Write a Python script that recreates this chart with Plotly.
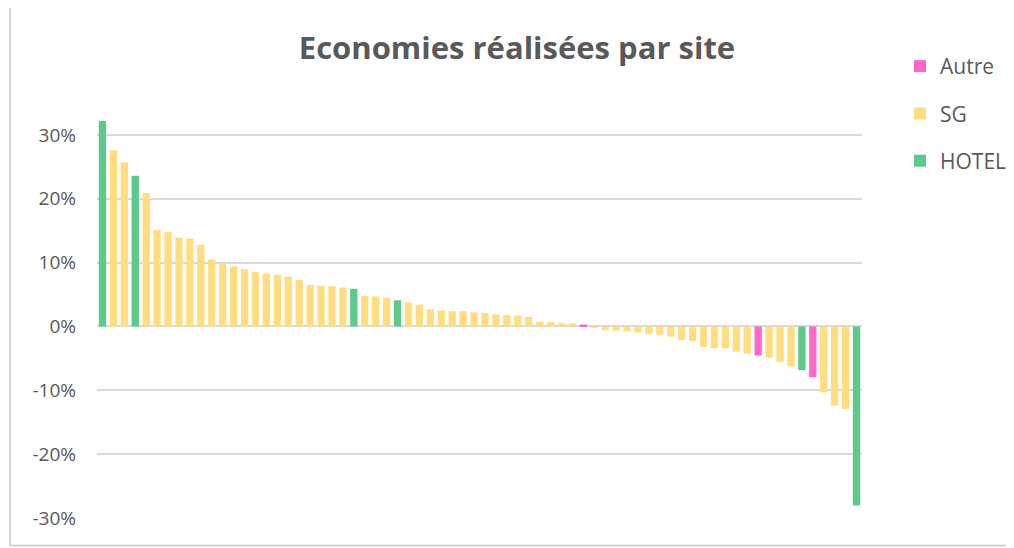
import plotly.graph_objects as go

# Data (percent savings per site, sorted descending)
values = [32.2, 27.6, 25.7, 23.6, 20.9, 15.1, 14.8, 13.9, 13.8, 12.8,
          10.5, 9.9, 9.4, 9.0, 8.5, 8.3, 8.1, 7.8, 7.3, 6.5,
          6.4, 6.3, 6.1, 5.9, 4.8, 4.7, 4.5, 4.1, 3.8, 3.4,
          2.7, 2.5, 2.4, 2.4, 2.2, 2.1, 1.9, 1.8, 1.7, 1.5,
          0.75, 0.7, 0.5, 0.45, 0.3, -0.2, -0.6, -0.65, -0.75, -0.95,
          -1.2, -1.3, -1.6, -2.1, -2.3, -3.2, -3.4, -3.45, -3.95, -4.25,
          -4.55, -4.9, -5.55, -6.25, -6.85, -7.95, -10.35, -12.4, -12.95, -28.05]
types = ["HOTEL", "SG", "SG", "HOTEL", "SG", "SG", "SG", "SG", "SG", "SG",
         "SG", "SG", "SG", "SG", "SG", "SG", "SG", "SG", "SG", "SG",
         "SG", "SG", "SG", "HOTEL", "SG", "SG", "SG", "HOTEL", "SG", "SG",
         "SG", "SG", "SG", "SG", "SG", "SG", "SG", "SG", "SG", "SG",
         "SG", "SG", "SG", "SG", "Autre", "SG", "SG", "SG", "SG", "SG",
         "SG", "SG", "SG", "SG", "SG", "SG", "SG", "SG", "SG", "SG",
         "Autre", "SG", "SG", "SG", "HOTEL", "Autre", "SG", "SG", "SG", "HOTEL"]
series_names = ["Autre", "SG", "HOTEL"]
series_colors = {"Autre": "#FF66CC", "SG": "#FFDD80", "HOTEL": "#5CCA8C"}
y_ticks = [-0.3, -0.2, -0.1, 0, 0.1, 0.2, 0.3]
y_tick_labels = ["-30%", "-20%", "-10%", "0%", "10%", "20%", "30%"]

fig = go.Figure()
for name in series_names:
    xs = [i for i, t in enumerate(types) if t == name]
    ys = [values[i] / 100 for i in xs]
    fig.add_trace(go.Bar(x=xs, y=ys, name=name, legendgroup=name, width=0.67,
                         marker=dict(color=series_colors[name], line=dict(width=0))))

OFF = 8  # page body margin
W, H = 1014 - OFF, 548 - OFF
L, R, T, B = 97 - OFF, 862 - OFF, 103 - OFF, 518 - OFF
fig.update_layout(
    width=W, height=H,
    margin=dict(l=L, r=W - R, t=T, b=H - B, autoexpand=False),
    paper_bgcolor="white", plot_bgcolor="white",
    barmode="overlay",
    font=dict(family="Open Sans, sans-serif", color="#595959", size=18),
    title=dict(text="<b>Economies réalisées par site</b>", x=(517 - OFF) / W, xanchor="center",
               y=1 - (48 - OFF) / H, yanchor="middle",
               font=dict(size=31, color="#595959", family="Open Sans, sans-serif")),
    legend=dict(x=(900 - OFF - L) / (R - L), xanchor="left", y=(B - (46 - OFF)) / (B - T), yanchor="top",
                font=dict(size=21, color="#595959"), tracegroupgap=17,
                bgcolor="rgba(0,0,0,0)"),
    xaxis=dict(range=[-0.5, len(values) - 0.5], showticklabels=False, showgrid=False,
               zeroline=False, showline=False, ticks=""),
    yaxis=dict(range=[-0.3, 0.35], tickvals=y_ticks, ticktext=y_tick_labels,
               showgrid=True, gridcolor="#D9D9D9", gridwidth=1.5,
               zeroline=True, zerolinecolor="#D9D9D9", zerolinewidth=1.5,
               showline=False, ticks="", ticklabelstandoff=20,
               tickfont=dict(size=19, color="#595959")),
    shapes=[dict(type="rect", xref="paper", yref="paper", layer="below",
                 x0=(10 - OFF - L) / (R - L), x1=(1030 - L) / (R - L),
                 y0=(B - (545.5 - OFF)) / (B - T), y1=(B - (4 - OFF)) / (B - T),
                 line=dict(color="#C8C8C8", width=1.5), fillcolor="rgba(0,0,0,0)")],
)

fig.write_html("out.html")
